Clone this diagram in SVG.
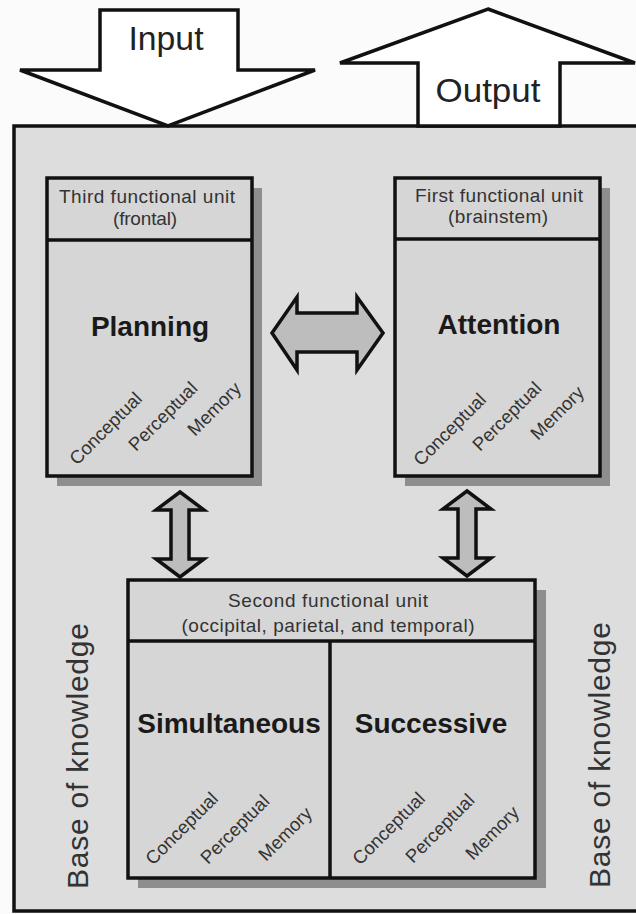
<svg xmlns="http://www.w3.org/2000/svg" width="636" height="914" viewBox="0 0 636 914">
<style>
.ln{stroke:#111;stroke-width:3.5;stroke-linejoin:miter}
.box{fill:#d6d6d6;stroke:#111;stroke-width:3.5}
.shadow{fill:#8e8e8e}
.dbl{fill:#bdbdbd;stroke:#111;stroke-width:3.5;stroke-linejoin:miter}
.big{font-family:"Liberation Sans",Arial,sans-serif;font-weight:bold;font-size:28px;fill:#1a1a1a;text-anchor:middle}
.hdr{font-family:"Liberation Sans",Arial,sans-serif;font-size:19px;fill:#333;text-anchor:middle}
.rot{font-family:"Liberation Sans",Arial,sans-serif;font-size:18.5px;fill:#333}
.io{font-family:"Liberation Sans",Arial,sans-serif;font-size:34px;fill:#222;text-anchor:middle}
.kb{font-family:"Liberation Sans",Arial,sans-serif;font-size:30px;fill:#333;text-anchor:middle}
</style>
<rect width="636" height="914" fill="#fbfbfb"/>
<g id="frame">
<rect x="14" y="126" width="640" height="785" fill="#dddddd" class="ln"/>
</g>
<g id="input">
<polygon points="100,10 238,10 238,70 315,70 168,126 20,70 100,70" fill="#ffffff" class="ln"/>
<text class="io" x="166" y="50" textLength="75" lengthAdjust="spacingAndGlyphs">Input</text>
</g>
<g id="output">
<polygon points="488,9 635,63 560,63 560,126 418,126 418,63 340,63" fill="#ffffff" class="ln"/>
<text class="io" x="488" y="102" textLength="105" lengthAdjust="spacingAndGlyphs">Output</text>
</g>
<g id="planning">
<rect class="shadow" x="57" y="188" width="205" height="298"/>
<rect class="box" x="47" y="178" width="205" height="298"/>
<line class="ln" x1="47" y1="240" x2="252" y2="240"/>
<text class="hdr" x="147" y="203" textLength="176">Third functional unit</text>
<text class="hdr" x="145" y="225" textLength="64">(frontal)</text>
<text class="big" x="150" y="336">Planning</text>
<text class="rot" transform="translate(77,466) rotate(-45)">Conceptual</text>
<text class="rot" transform="translate(136,452) rotate(-45)">Perceptual</text>
<text class="rot" transform="translate(195,437) rotate(-45)">Memory</text>
</g>
<g id="attention">
<rect class="shadow" x="405" y="188" width="205" height="298"/>
<rect class="box" x="395" y="178" width="205" height="298"/>
<line class="ln" x1="395" y1="239" x2="600" y2="239"/>
<text class="hdr" x="499" y="202" textLength="168">First functional unit</text>
<text class="hdr" x="498" y="223" textLength="100">(brainstem)</text>
<text class="big" x="499" y="334">Attention</text>
<text class="rot" transform="translate(421,467) rotate(-45)">Conceptual</text>
<text class="rot" transform="translate(480,452) rotate(-45)">Perceptual</text>
<text class="rot" transform="translate(538,441) rotate(-45)">Memory</text>
</g>
<g id="second-unit">
<rect class="shadow" x="138" y="590" width="408" height="298"/>
<rect class="box" x="128" y="580" width="407" height="298"/>
<line class="ln" x1="128" y1="641" x2="535" y2="641"/>
<line class="ln" x1="330" y1="641" x2="330" y2="878"/>
<text class="hdr" x="328" y="607" textLength="200">Second functional unit</text>
<text class="hdr" x="328" y="632" textLength="293">(occipital, parietal, and temporal)</text>
<text class="big" x="229" y="733">Simultaneous</text>
<text class="big" x="431" y="733">Successive</text>
<text class="rot" transform="translate(153,866) rotate(-45)">Conceptual</text>
<text class="rot" transform="translate(208,865) rotate(-45)">Perceptual</text>
<text class="rot" transform="translate(266,862) rotate(-45)">Memory</text>
<text class="rot" transform="translate(360,866) rotate(-45)">Conceptual</text>
<text class="rot" transform="translate(413,864) rotate(-45)">Perceptual</text>
<text class="rot" transform="translate(473,861) rotate(-45)">Memory</text>
</g>
<g id="base-left">
<text class="kb" transform="translate(88,756) rotate(-90)" textLength="266">Base of knowledge</text>
</g>
<g id="base-right">
<text class="kb" transform="translate(610,755) rotate(-90)" textLength="266">Base of knowledge</text>
</g>
<g id="connectors">
<polygon class="dbl" points="272,333 297,297 297,313 357,313 357,297 383,333 357,370 357,352 297,352 297,370"/>
<polygon class="dbl" points="180,492 204,510 189,510 189,559 204,559 180,577 156,559 171,559 171,510 156,510"/>
<polygon class="dbl" points="467,491 491,509 476,509 476,558 491,558 467,576 443,558 458,558 458,509 443,509"/>
</g>
</svg>
